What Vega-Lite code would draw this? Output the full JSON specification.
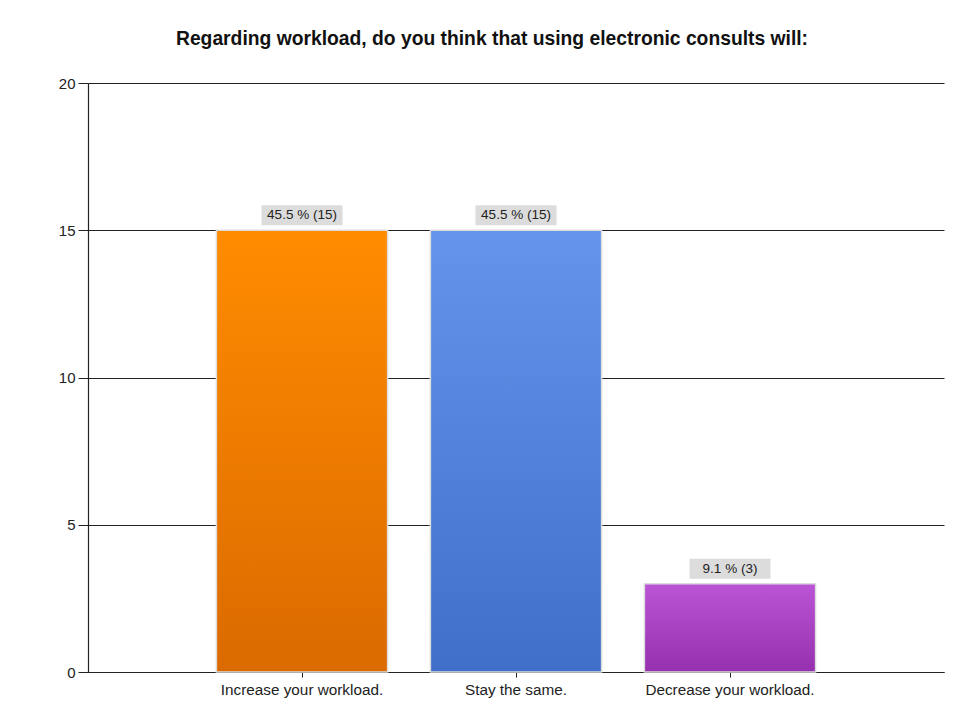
{
  "$schema": "https://vega.github.io/schema/vega-lite/v6.json",
  "width": 856,
  "height": 589,
  "autosize": "none",
  "padding": {"left": 88, "top": 83, "right": 22, "bottom": 56},
  "background": "white",
  "title": {
    "text": "Regarding workload, do you think that using electronic consults will:",
    "font": "Liberation Sans",
    "fontSize": 19.3,
    "fontWeight": "bold",
    "color": "#111",
    "anchor": "middle",
    "baseline": "alphabetic",
    "dx": -24,
    "offset": 12
  },
  "config": {
    "view": {"stroke": null},
    "font": "Liberation Sans"
  },
  "data": {
    "values": [
      {"answer": "Increase your workload.", "count": 15, "label": "45.5 % (15)"},
      {"answer": "Stay the same.", "count": 15, "label": "45.5 % (15)"},
      {"answer": "Decrease your workload.", "count": 3, "label": "9.1 % (3)"}
    ]
  },
  "encoding": {
    "x": {
      "field": "answer",
      "type": "nominal",
      "sort": null,
      "scale": {"paddingInner": 0.2, "paddingOuter": 0.6},
      "axis": {
        "title": null,
        "labelAngle": 0,
        "labelFontSize": 15.3,
        "labelColor": "#222",
        "labelPadding": 5,
        "domainColor": "#222",
        "domainWidth": 1.2,
        "tickColor": "#222",
        "tickSize": 5,
        "grid": false
      }
    },
    "y": {
      "field": "count",
      "type": "quantitative",
      "scale": {"domain": [0, 20]},
      "axis": {
        "title": null,
        "values": [0, 5, 10, 15, 20],
        "labelFontSize": 15,
        "labelColor": "#222",
        "labelPadding": 3,
        "domainColor": "#222",
        "domainWidth": 1.2,
        "tickColor": "#222",
        "tickSize": 10,
        "grid": true,
        "gridColor": "#222",
        "gridOpacity": 1,
        "gridWidth": 1.2
      }
    }
  },
  "layer": [
    {
      "transform": [{"filter": "datum.answer === 'Increase your workload.'"}],
      "mark": {
        "type": "bar",
        "stroke": "#dcdcdc",
        "strokeWidth": 1.5,
        "color": {
          "gradient": "linear", "x1": 0, "y1": 0, "x2": 0, "y2": 1,
          "stops": [{"offset": 0, "color": "#ff8c00"}, {"offset": 1, "color": "#db6a00"}]
        }
      }
    },
    {
      "transform": [{"filter": "datum.answer === 'Stay the same.'"}],
      "mark": {
        "type": "bar",
        "stroke": "#dcdcdc",
        "strokeWidth": 1.5,
        "color": {
          "gradient": "linear", "x1": 0, "y1": 0, "x2": 0, "y2": 1,
          "stops": [{"offset": 0, "color": "#6495ed"}, {"offset": 1, "color": "#3f6fc8"}]
        }
      }
    },
    {
      "transform": [{"filter": "datum.answer === 'Decrease your workload.'"}],
      "mark": {
        "type": "bar",
        "stroke": "#dcdcdc",
        "strokeWidth": 1.5,
        "color": {
          "gradient": "linear", "x1": 0, "y1": 0, "x2": 0, "y2": 1,
          "stops": [{"offset": 0, "color": "#bb55d6"}, {"offset": 1, "color": "#9530ae"}]
        }
      }
    },
    {
      "mark": {"type": "tick", "orient": "horizontal", "color": "#dcdcdc", "opacity": 1, "size": 81, "thickness": 20, "yOffset": -15}
    },
    {
      "mark": {"type": "text", "fontSize": 13.5, "color": "#222", "baseline": "middle", "dy": -15},
      "encoding": {"text": {"field": "label"}}
    }
  ]
}
